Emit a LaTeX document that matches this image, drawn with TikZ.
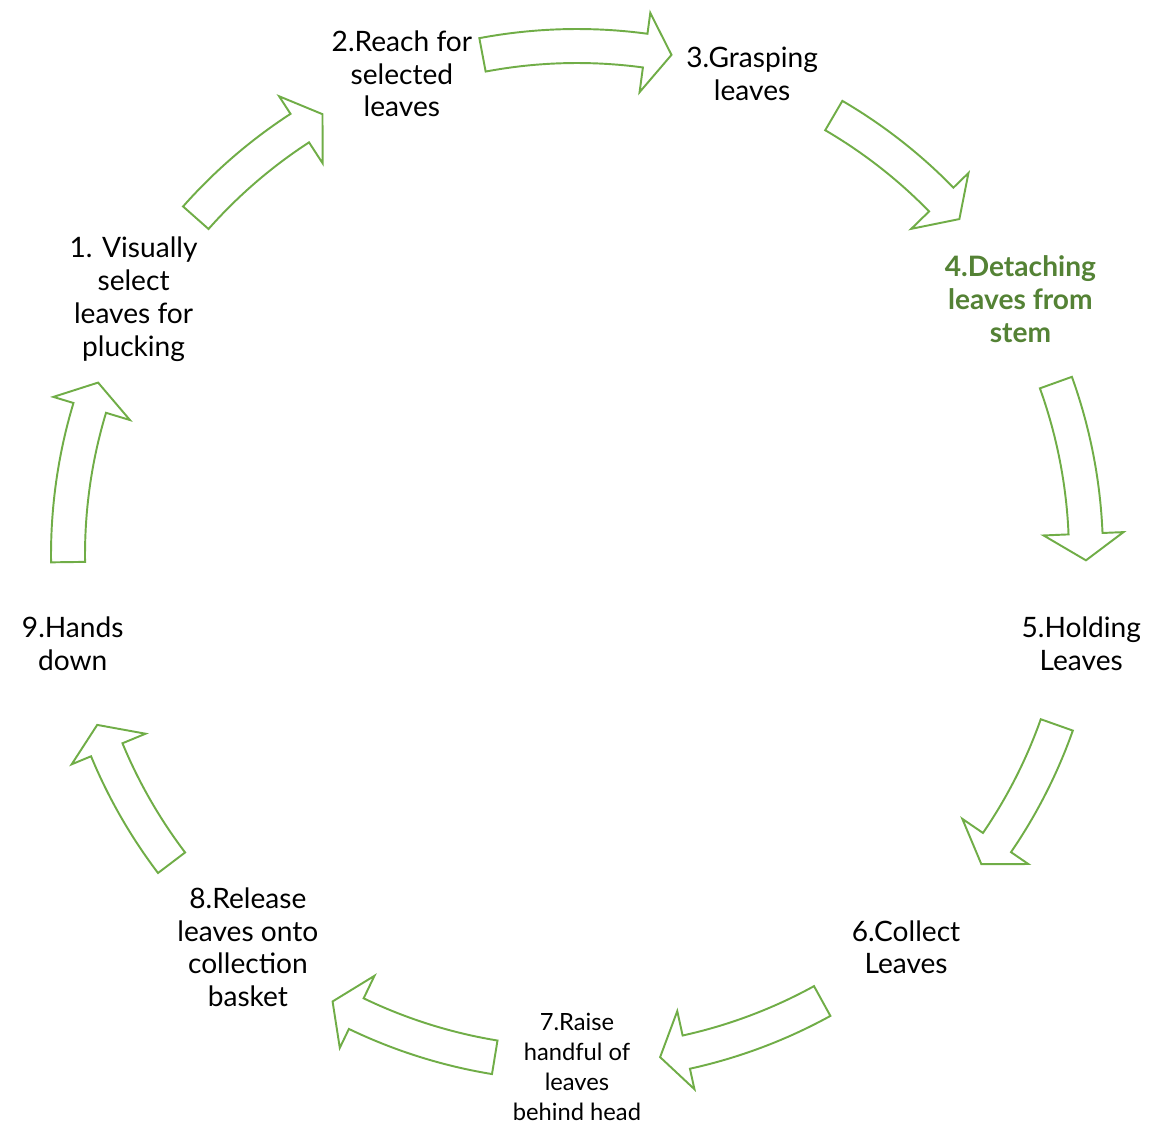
\documentclass[tikz,border=0pt]{standalone}
\usepackage{fontspec}
\setmainfont{Lato}
\usetikzlibrary{arrows.meta}
\definecolor{leafgreen}{RGB}{112,173,71}
\definecolor{darkleaf}{RGB}{84,130,53}
\tikzset{
  cycle arrow/.style={draw=leafgreen, line width=1.1pt, line join=miter, fill=white},
  step label/.style={align=center, font=\fontsize{16}{18.7}\selectfont, text=black},
}
% curved block arrow round the cycle, #1 = tail angle, #2 = tip angle
\newcommand{\cyclearrow}[2]{%
  \draw[cycle arrow] (#1:9.84) arc[start angle=#1, end angle={#2+3}, radius=9.84]
    -- ({#2+3}:9.34) -- (#2:10.18) -- ({#2+3}:10.94) -- ({#2+3}:10.52)
    arc[start angle={#2+3}, end angle=#1, radius=10.52] -- cycle;}

\begin{document}
\begin{tikzpicture}
    \useasboundingbox (-11.54,-11.36) rectangle (11.48,11.10);
    \node [step label] (select) at (150:10.24) {1. Visually\\select\\leaves for\\plucking};
    \node [step label] (reach) at (110:10.24) {2.Reach for\\selected\\leaves};
    \node [step label] (grasp) at (70:10.24) {3.Grasping\\leaves};
    \node [step label, text=darkleaf, font=\fontsize{16}{18.7}\selectfont\bfseries] (detach) at (30:10.24) {4.Detaching\\leaves from\\stem};
    \node [step label] (hold) at (-10:10.24) {5.Holding\\Leaves};
    \node [step label] (collect) at (-50:10.24) {6.Collect\\Leaves};
    \node [step label, font=\fontsize{13.5}{17}\selectfont] (raise) at (-90:10.24) {7.Raise\\handful of\\leaves\\behind head};
    \node [step label] (release) at (-130:10.24) {8.Release\\leaves onto\\collection\\basket};
    \node [step label] (down) at (-170:10.24) {9.Hands\\down};
    \cyclearrow{138.5}{120}
    \cyclearrow{100.7}{79.3}
    \cyclearrow{59.7}{41.3}
    \cyclearrow{19.8}{-0.6}
    \cyclearrow{-19.5}{-37.4}
    \cyclearrow{-61.2}{-80.6}
    \cyclearrow{-99.3}{-118.7}
    \cyclearrow{-142.8}{-160.5}
    \cyclearrow{180.8}{160.2}
\end{tikzpicture}
\end{document}
